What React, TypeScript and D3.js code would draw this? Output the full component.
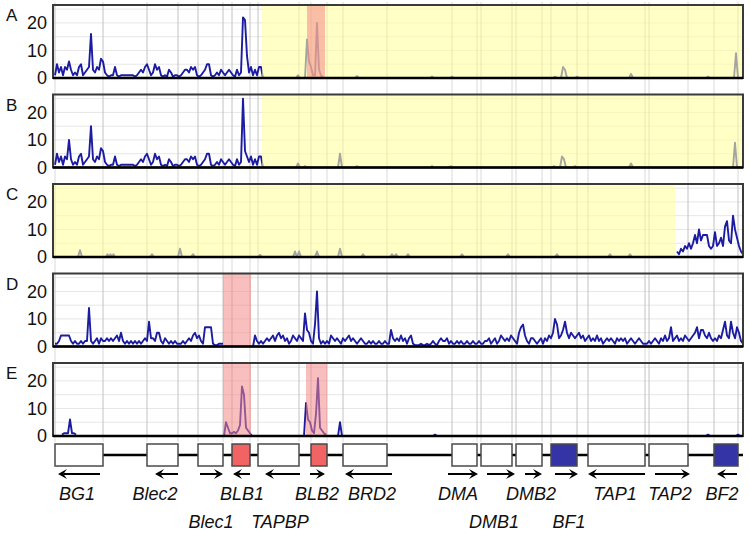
import React from 'react';
import * as d3 from 'd3';

// positions are in window units (0..690) along the region
type Seg = { start: number; values: number[]; step?: number };

const seriesA: Seg[] = [
  {
    start: 2,
    values: [1, 5, 2, 4, 1, 4, 3, 6, 3, 1, 2, 1, 4, 5, 1, 2, 3, 4, 16, 3, 2, 4, 3, 7, 6, 2, 1, 0.5, 1, 1, 4, 1, 0.5, 1, 1, 1, 1, 1, 1, 1,
      0.5, 1, 2, 3, 2, 4, 5, 3, 1, 2, 5, 3, 4, 1, 0.5, 1, 0.5, 3, 2, 0.5, 1, 1, 0.5, 1, 2, 3, 3, 2, 4, 3, 4, 1, 0.5, 1, 2, 3, 5, 5, 1, 0.5,
      1, 2, 1, 3, 2, 1, 2, 3, 2, 1, 0.5, 3, 1, 2, 22, 21, 8, 2, 4, 1, 3, 1, 4, 4, 0],
  },
  { start: 243, values: [0, 1, 0] },
  { start: 252, values: [0, 14, 6, 4, 1, 1, 20, 3, 1, 0] },
  { start: 302, values: [0, 0.7, 0] },
  { start: 377, values: [0, 0.5, 0] },
  { start: 397, values: [0, 0.5, 0] },
  { start: 500, values: [0, 0.5, 0] },
  { start: 508, values: [0, 4, 3, 0] },
  { start: 522, values: [0, 0.5, 0] },
  { start: 576, values: [0, 1.5, 0] },
  { start: 653, values: [0, 0.5, 0] },
  { start: 681, values: [0, 9, 0] },
];

const seriesB: Seg[] = [
  {
    start: 2,
    values: [1, 5, 2, 4, 1, 4, 3, 10, 3, 1, 2, 1, 4, 5, 1, 2, 3, 4, 15, 3, 2, 4, 3, 7, 6, 2, 1, 0.5, 1, 1, 4, 1, 0.5, 1, 1, 1, 1, 1, 1, 1,
      0.5, 1, 2, 3, 2, 4, 5, 3, 1, 2, 5, 3, 4, 1, 0.5, 1, 0.5, 3, 2, 0.5, 1, 1, 0.5, 1, 2, 3, 3, 2, 4, 3, 4, 1, 0.5, 1, 2, 3, 5, 5, 1, 0.5,
      1, 2, 1, 3, 2, 1, 2, 3, 2, 1, 0.5, 3, 1, 2, 25, 6, 4, 2, 4, 1, 3, 1, 4, 4, 0],
  },
  { start: 243, values: [0, 1.5, 0] },
  { start: 250, values: [0, 0.5, 0] },
  { start: 285, values: [0, 5, 0] },
  { start: 302, values: [0, 0.5, 0] },
  { start: 377, values: [0, 0.5, 0] },
  { start: 396, values: [0, 0.5, 0] },
  { start: 499, values: [0, 0.5, 0] },
  { start: 507, values: [0, 4, 3, 0] },
  { start: 520, values: [0, 0.5, 0] },
  { start: 576, values: [0, 1.5, 0] },
  { start: 680, values: [0, 9, 0] },
];

const seriesC: Seg[] = [
  { start: 25, values: [0, 2.5, 0] },
  { start: 53, values: [0, 1, 0, 1, 0, 1, 0], step: 1.5 },
  { start: 97, values: [0, 1, 0] },
  { start: 125, values: [0, 3, 0] },
  { start: 138, values: [0, 1, 0] },
  { start: 205, values: [0, 0.8, 0] },
  { start: 240, values: [0, 2, 0, 2, 0] },
  { start: 262, values: [0, 2, 0] },
  { start: 285, values: [0, 3, 0] },
  { start: 308, values: [0, 1, 0] },
  { start: 337, values: [0, 1, 0, 1, 0] },
  { start: 353, values: [0, 1, 0] },
  { start: 407, values: [0, 1, 0] },
  { start: 453, values: [0, 1, 0] },
  { start: 502, values: [0, 1, 0] },
  { start: 555, values: [0, 1, 0] },
  { start: 575, values: [0, 1, 0] },
  {
    start: 624,
    values: [2, 1, 3, 2, 4, 3, 5, 3, 5, 8, 5, 10, 6, 8, 8, 8, 4, 3, 4, 9, 4, 5, 7, 4, 11, 13, 6, 5, 15, 10, 7, 4, 2, 1],
  },
];

const seriesD: Seg[] = [
  {
    start: 2,
    values: [1, 1, 2, 4, 4, 4, 4, 4, 2, 1, 2, 1, 1, 2, 1, 2, 2, 14, 2, 1, 2, 3, 1, 3, 2, 2, 3, 2, 3, 2,
      3, 4, 2, 5, 2, 1, 2, 1, 2, 1, 2, 1, 2, 1, 2, 3, 2, 9, 3, 3, 2, 5, 5, 2, 1, 3, 2, 1, 2, 1,
      2, 1, 1, 1, 2, 1, 2, 3, 2, 4, 5, 3, 4, 2, 1, 7, 7, 7, 7, 1, 0.5, 0.5, 1, 1, 1],
  },
  {
    start: 200,
    values: [0, 4, 2, 1, 2, 1, 2, 3, 2, 3, 4, 2, 4, 5, 3, 4, 2, 3, 1, 2, 4, 3, 2, 4, 3, 2, 12, 6, 5, 2,
      1, 8, 20, 3, 1, 2, 1, 2, 1, 4, 3, 2, 3, 2, 1, 3, 2, 3, 4, 2, 3, 2, 1, 2, 3, 2, 1, 1, 2, 1,
      2, 1, 1, 2, 1, 1, 2, 1, 1, 6, 3, 2, 3, 2, 4, 2, 3, 1, 3, 4, 1, 0.5, 0.5, 0.5, 1, 0.5, 0.5, 1, 0.5, 1,
      2, 1, 0.5, 2, 3, 2, 2, 3, 1, 2, 1, 1, 2, 1, 2, 1, 1, 2, 1, 1, 2, 1, 1, 2, 1, 1, 2, 2, 3, 1,
      2, 3, 1, 2, 4, 3, 2, 3, 2, 4, 3, 2, 1, 5, 7, 8, 4, 2, 1, 3, 3, 2, 1, 2, 3, 1, 3, 2, 4, 3,
      5, 10, 8, 3, 4, 6, 9, 5, 3, 5, 4, 3, 4, 5, 3, 4, 2, 3, 4, 2, 3, 2, 4, 2, 3, 1, 2, 3, 2, 3,
      2, 1, 3, 2, 3, 2, 3, 1, 2, 3, 2, 1, 2, 3, 2, 1, 1, 1, 2, 1, 2, 3, 2, 1, 3, 2, 4, 2, 3, 7,
      2, 3, 4, 2, 3, 2, 4, 3, 2, 3, 4, 5, 7, 3, 6, 6, 4, 3, 5, 3, 2, 3, 2, 4, 3, 6, 9, 4, 3, 9,
      5, 3, 7, 5, 2, 1],
  },
];

const seriesE: Seg[] = [
  { start: 9, values: [0.5, 1, 1, 1, 6, 1, 1, 0.5] },
  { start: 171, values: [0, 5, 3, 1, 1, 1.5, 1, 2, 4, 18, 15, 3, 2, 1, 0] },
  { start: 251, values: [0, 12, 6, 5, 2, 1, 8, 21, 3, 2, 1, 0.5] },
  { start: 285, values: [0, 5, 0] },
  { start: 380, values: [0, 0.5, 0] },
  { start: 653, values: [0, 0.5, 0] },
  { start: 683, values: [0, 0.5, 0] },
];

const panelLabels = ['A', 'B', 'C', 'D', 'E'];
const panelSeries = [seriesA, seriesB, seriesC, seriesD, seriesE];
const yellowSpans: [number, number][][] = [[[209, 690]], [[209, 690]], [[0, 622]], [], []];
const pinkSpans: [number, number][][] = [[[254, 272]], [], [], [[170, 198]], [[170, 198], [253, 274]]];

const yTicks = [0, 10, 20];
const yGrid = [5, 10, 15, 20, 25];

const geneNames = ['BG1', 'Blec2', 'Blec1', 'BLB1', 'TAPBP', 'BLB2', 'BRD2', 'DMA', 'DMB1', 'DMB2', 'BF1', 'TAP1', 'TAP2', 'BF2'];
const geneStart = [2, 94, 145, 179, 205, 258, 290, 399, 428, 463, 498, 535, 596, 661];
const geneEnd = [50, 125, 170, 197, 246, 274, 334, 424, 459, 489, 524, 592, 635, 685];
const geneKind = ['', '', '', 'BLB', '', 'BLB', '', '', '', '', 'BF', '', '', 'BF'];
const arrowFrom = [47, 125, 147, 197, 247, 257, 339, 395, 434, 472, 502, 592, 602, 684];
const arrowTo = [5, 102, 170, 180, 212, 272, 292, 425, 462, 489, 525, 535, 637, 664];
const labelPos = [24, 102, 158, 189, 227, 264, 319, 405, 441, 478, 516, 562, 617, 669];
const labelRow = [0, 0, 1, 0, 1, 0, 0, 0, 1, 0, 1, 0, 0, 0];

const W = 750;
const H = 534;
const x = d3.scaleLinear().domain([0, 690]).range([53, 743]);
const panelH = 73;
const panelTop = (i: number) => 5 + i * 89.5;
const boundaries = geneStart.concat(geneEnd);

const kindFill: Record<string, string> = { '': '#ffffff', BLB: '#f26464', BF: '#3434a6' };

function segPoints(s: Seg): [number, number][] {
  const step = s.step ?? 2;
  return s.values.map((v, i) => [s.start + i * step, v] as [number, number]);
}

const font = "'Liberation Sans', Arial, Helvetica, sans-serif";

export default function App() {
  const trackY = 455;
  const arrowY = 474;
  return (
    <svg width={W} height={H} style={{ position: 'absolute', left: 0, top: 0, background: '#fff' }} fontFamily={font}>
      {boundaries.map((b, i) => (
        <line key={'vg' + i} x1={x(b)} x2={x(b)} y1={2} y2={442} stroke="#dadada" strokeWidth={1} />
      ))}
      {panelLabels.map((label, i) => {
        const top = panelTop(i);
        const bottom = top + panelH;
        const y = d3.scaleLinear().domain([0, 26.5]).range([bottom, top]);
        const line = d3.line<[number, number]>().x(d => x(d[0])).y(d => y(d[1]));
        return (
          <g key={label}>
            <rect x={x(0)} y={top} width={x(690) - x(0)} height={panelH} fill="#fff" />
            {yGrid.map(v => (
              <line key={v} x1={x(0)} x2={x(690)} y1={y(v)} y2={y(v)} stroke="#e6e6e6" strokeWidth={1} />
            ))}
            {boundaries.map((b, j) => (
              <line key={j} x1={x(b)} x2={x(b)} y1={top} y2={bottom} stroke="#c2c2c2" strokeWidth={1} />
            ))}
            {panelSeries[i].map((s, j) => (
              <path key={j} d={line(segPoints(s)) || ''} fill="none" stroke="#1c1ca2" strokeWidth={1.9} strokeLinejoin="round" />
            ))}
            {yellowSpans[i].map(([a, b], j) => (
              <rect key={'y' + j} x={x(a)} y={top} width={x(b) - x(a)} height={panelH} fill="#ffffa0" opacity={0.6} />
            ))}
            {pinkSpans[i].map(([a, b], j) => (
              <rect key={'p' + j} x={x(a)} y={top} width={x(b) - x(a)} height={panelH} fill="#f48888" opacity={0.55} />
            ))}
            <rect x={x(0)} y={top} width={x(690) - x(0)} height={panelH} fill="none" stroke="#3a3a3a" strokeWidth={2} />
            <line x1={x(0)} x2={x(690)} y1={bottom} y2={bottom} stroke="#000" strokeWidth={2.5} />
            {yTicks.map(t => (
              <text key={t} x={47} y={y(t)} dy="0.36em" textAnchor="end" fontSize={18} fill="#111">
                {t}
              </text>
            ))}
            <text x={6} y={top + 16} fontSize={17} fill="#111">
              {label}
            </text>
          </g>
        );
      })}
      <line x1={x(2)} x2={x(690)} y1={trackY} y2={trackY} stroke="#000" strokeWidth={2.5} />
      {geneNames.map((g, i) => {
        const x0 = x(geneStart[i]);
        const x1 = x(geneEnd[i]);
        const a0 = x(arrowFrom[i]);
        const a1 = x(arrowTo[i]);
        const dir = a1 > a0 ? 1 : -1;
        const headL = 9;
        const headW = 5;
        return (
          <g key={g}>
            <rect x={x0} y={trackY - 11} width={x1 - x0} height={22} fill={kindFill[geneKind[i]]} stroke="#4a4a4a" strokeWidth={1.5} />
            <line x1={a0} x2={a1 - dir * headL * 0.6} y1={arrowY} y2={arrowY} stroke="#000" strokeWidth={2} />
            <path
              d={`M${a1},${arrowY} L${a1 - dir * headL},${arrowY - headW} L${a1 - dir * headL * 0.6},${arrowY} L${a1 - dir * headL},${arrowY + headW} Z`}
              fill="#000"
            />
            <text
              x={x(labelPos[i])}
              y={labelRow[i] === 0 ? 500 : 528}
              textAnchor="middle"
              fontSize={18}
              fontStyle="italic"
              fill="#111"
            >
              {g}
            </text>
          </g>
        );
      })}
    </svg>
  );
}
